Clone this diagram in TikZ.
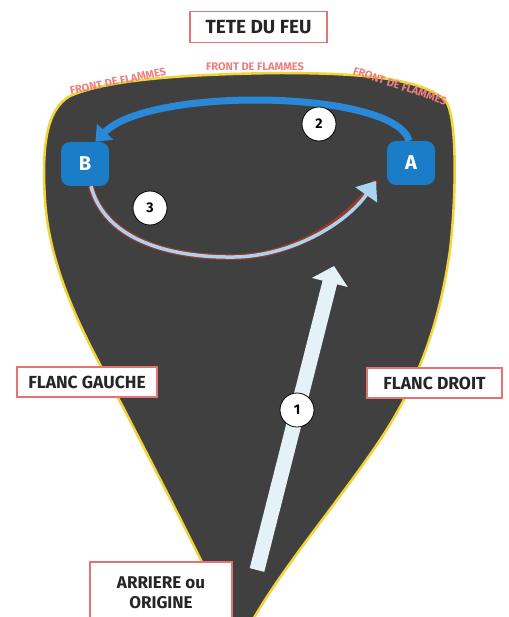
\documentclass[tikz,border=0pt]{standalone}
\usepackage{fontspec}
\setmainfont{Fira Sans}
\usetikzlibrary{arrows.meta,calc}
\definecolor{blobfill}{HTML}{404040}
\definecolor{blobedge}{HTML}{F2D33A}
\definecolor{boxred}{HTML}{E57373}
\definecolor{flamepink}{HTML}{EE7F7F}
\definecolor{nodeblue}{HTML}{1B7CC7}
\definecolor{arctwo}{HTML}{2A88D8}
\definecolor{arcthreein}{HTML}{A8D4F0}
\definecolor{arcthreeout}{HTML}{9A3A2A}
\definecolor{arrowone}{HTML}{E4F2F8}
\begin{document}
\begin{tikzpicture}[x=1pt,y=-1pt,
  labelbox/.style={draw=boxred, line width=1.3pt, fill=white, inner sep=0pt, text=black!85},
  flame/.style={text=flamepink, font=\fontsize{11}{12}\selectfont\bfseries},
  letternode/.style={fill=nodeblue, rounded corners=9pt, minimum width=48pt, minimum height=44pt, text=white, font=\fontsize{20}{22}\selectfont\bfseries},
  numnode/.style={circle, fill=white, draw=black, line width=0.8pt, minimum size=34pt, inner sep=0pt, font=\fontsize{14}{16}\selectfont\bfseries}
]
\useasboundingbox (0,0) rectangle (508,617);
\fill[white] (0,0) rectangle (508,617);
\clip (0,0) rectangle (508,617);

% fire shape
\draw[fill=blobfill, draw=blobedge, line width=2.5pt]
  (232,625) .. controls (200,555) and (150,460) .. (123,407)
  .. controls (95,355) and (50,280) .. (45,200)
  .. controls (42,150) and (45,110) .. (70,96)
  .. controls (110,78) and (200,74) .. (280,73)
  .. controls (360,73) and (420,78) .. (445,100)
  .. controls (458,115) and (456,200) .. (450,250)
  .. controls (440,320) and (420,380) .. (380,440)
  .. controls (340,500) and (280,570) .. (250,625) -- cycle;

% labels on top
\node[labelbox, minimum width=137pt, minimum height=31pt, font=\fontsize{19}{22}\selectfont\bfseries] (tete) at (258.5,27) {TETE DU FEU};
\node[flame] (fm) at (255,67) {FRONT DE FLAMMES};
\node[flame, rotate=11.5] (fl) at (118,81) {FRONT DE FLAMMES};
\node[flame, rotate=-18.5] (fr) at (400,86) {FRONT DE FLAMMES};

% nodes A and B
\node[letternode] (B) at (85,164) {B};
\node[letternode] (A) at (411,163) {A};

% arc 2 (A -> B over the top)
\draw[arctwo, line width=7pt, -{Triangle[length=14pt,width=22pt]}]
  (A.95) .. controls (395,90) and (150,86) .. (B.65);

% arc 3 (B -> A under)
\coordinate (arcbot) at (235,257);
\coordinate (arcend) at (376,181);
\draw[arcthreeout, line width=6pt]
  (B.-75) .. controls (105,240) and (170,258) .. (arcbot)
  .. controls (290,256) and (345,225) .. (arcend);
\draw[arcthreein, line width=3.5pt, -{Triangle[length=17pt,width=26pt]}]
  (B.-75) .. controls (105,240) and (170,258) .. (arcbot)
  .. controls (290,256) and (345,225) .. (arcend);

% arrow 1
\coordinate (tail) at (257,570);
\coordinate (tip) at (334,266);
\draw[arrowone, line width=15pt, -{Triangle[length=17pt,width=36pt]}] (tail) -- (tip);

% number circles
\node[numnode] (n2) at (319,124) {2};
\node[numnode] (n3) at (150,208) {3};
\node[numnode] (n1) at (297,410) {1};

% side labels
\node[labelbox, minimum width=140pt, minimum height=30pt, font=\fontsize{17.5}{20}\selectfont\bfseries] (fg) at (87,382) {FLANC GAUCHE};
\node[labelbox, minimum width=135pt, minimum height=30pt, font=\fontsize{17.5}{20}\selectfont\bfseries] (fd) at (434.5,383) {FLANC DROIT};
\node[labelbox, minimum width=142pt, minimum height=62pt, align=center, font=\fontsize{17}{21}\selectfont\bfseries] (origin) at (161,593) {ARRIERE ou\\[-1pt]ORIGINE};
\end{tikzpicture}
\end{document}
